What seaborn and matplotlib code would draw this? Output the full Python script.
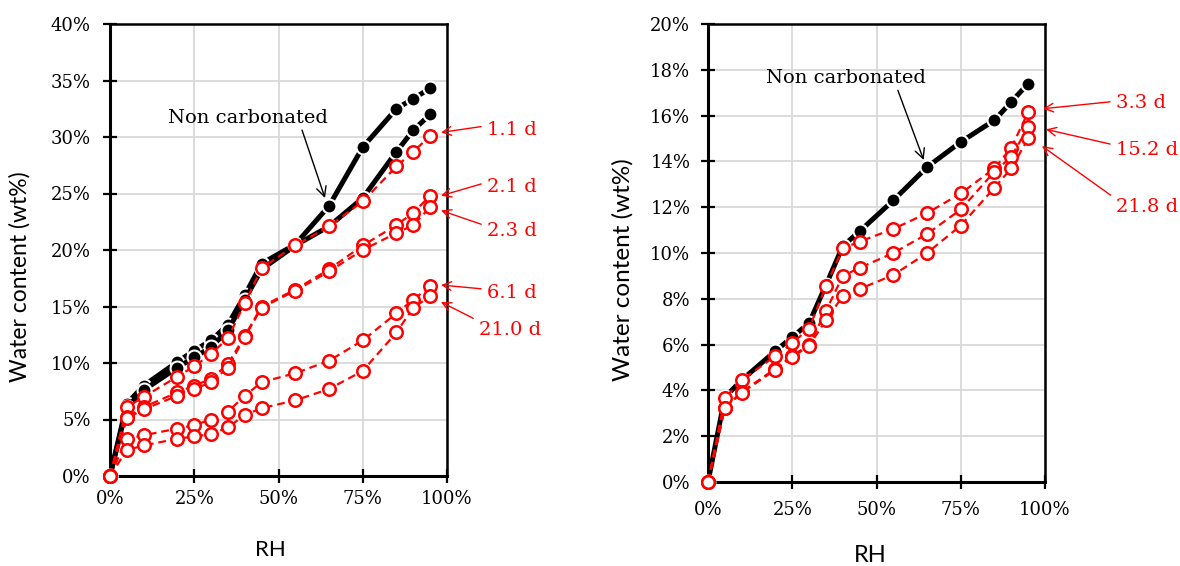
import numpy as np
import pandas as pd
import matplotlib
matplotlib.use("Agg")
import matplotlib.pyplot as plt
import seaborn as sns
from matplotlib.ticker import PercentFormatter, MultipleLocator

# ---------------- data ----------------
rh = [0, 5, 10, 20, 25, 30, 35, 40, 45, 55, 65, 75, 85, 90, 95]

left_nc_a = [0, 6.4, 8.0, 10.1, 11.1, 12.0, 13.4, 16.0, 18.8, 20.5, 23.9, 29.1, 32.5, 33.4, 34.3]
left_nc_b = [0, 6.1, 7.6, 9.6, 10.5, 11.4, 12.9, 15.6, 18.3, 20.4, 22.1, 24.6, 28.7, 30.6, 32.0]
left_1_1 = [0, 6.1, 7.0, 8.8, 9.7, 10.8, 12.2, 15.3, 18.4, 20.4, 22.1, 24.3, 27.4, 28.7, 30.1]
left_2_1 = [0, 5.2, 6.1, 7.4, 8.0, 8.6, 9.9, 12.4, 15.0, 16.5, 18.3, 20.4, 22.2, 23.3, 24.8]
left_2_3 = [0, 5.1, 5.9, 7.1, 7.7, 8.3, 9.6, 12.3, 14.9, 16.4, 18.1, 20.0, 21.5, 22.2, 23.8]
left_6_1 = [0, 3.3, 3.6, 4.2, 4.5, 5.0, 5.7, 7.1, 8.3, 9.1, 10.2, 12.0, 14.4, 15.6, 16.8]
left_21_0 = [0, 2.3, 2.7, 3.3, 3.5, 3.7, 4.3, 5.4, 6.0, 6.7, 7.7, 9.3, 12.7, 14.9, 15.9]

right_nc = [0, 3.7, 4.45, 5.72, 6.33, 6.94, 8.6, 10.3, 10.95, 12.3, 13.75, 14.85, 15.8, 16.6, 17.4]
right_3_3 = [0, 3.67, 4.45, 5.5, 6.07, 6.7, 8.56, 10.2, 10.5, 11.05, 11.74, 12.6, 13.7, 14.6, 16.15]
right_15_2 = [0, 3.25, 3.93, 4.95, 5.5, 6.0, 7.47, 9.0, 9.35, 10.0, 10.83, 11.9, 13.55, 14.2, 15.5]
right_21_8 = [0, 3.22, 3.9, 4.9, 5.45, 5.95, 7.07, 8.12, 8.43, 9.04, 10.0, 11.2, 12.85, 13.7, 15.0]

left_red_labels = ["1.1 d", "2.1 d", "2.3 d", "6.1 d", "21.0 d"]
right_red_labels = ["3.3 d", "15.2 d", "21.8 d"]
nc_label = "Non carbonated"
y_label = "Water content (wt%)"
x_label = "RH"

# ---------------- style ----------------
sns.set_theme(style="white")
plt.rcParams["font.family"] = ["DejaVu Serif"]
SERIF = "DejaVu Serif"
SANS = "Lato"

fig = plt.figure(figsize=(11.8, 5.66), dpi=100)
axL = fig.add_axes([110 / 1180, 1 - 476 / 566, 337 / 1180, 452 / 566])
axR = fig.add_axes([708 / 1180, 1 - 482 / 566, 337 / 1180, 458 / 566])


def draw_black(ax, y):
    sns.lineplot(x=rh, y=y, ax=ax, color="black", lw=3.6, marker="o",
                 markersize=10, markerfacecolor="black", markeredgecolor="white",
                 markeredgewidth=1.5, clip_on=False, zorder=3, errorbar=None)


def draw_red(ax, y):
    sns.lineplot(x=rh, y=y, ax=ax, color="#ff0000", lw=1.6, linestyle=(0, (3.5, 2.2)),
                 marker="o", markersize=9, markerfacecolor="white",
                 markeredgecolor="#ff0000", markeredgewidth=1.8, clip_on=False,
                 zorder=4, errorbar=None)


for s in [left_nc_a, left_nc_b]:
    draw_black(axL, s)
for s in [left_1_1, left_2_1, left_2_3, left_6_1, left_21_0]:
    draw_red(axL, s)

draw_black(axR, right_nc)
for s in [right_3_3, right_15_2, right_21_8]:
    draw_red(axR, s)


def style_axes(ax, ymax, ystep, ypad, xpad):
    ax.set_xlim(0, 100)
    ax.set_ylim(0, ymax)
    ax.xaxis.set_major_locator(MultipleLocator(25))
    ax.yaxis.set_major_locator(MultipleLocator(ystep))
    ax.xaxis.set_major_formatter(PercentFormatter(100, decimals=0))
    ax.yaxis.set_major_formatter(PercentFormatter(100, decimals=0))
    ax.grid(True, color="#d9d9d9", lw=1.3)
    ax.set_axisbelow(True)
    for sp in ax.spines.values():
        sp.set_visible(True)
        sp.set_color("black")
        sp.set_linewidth(1.8)
    ax.spines["left"].set_linewidth(2.2)
    ax.spines["bottom"].set_linewidth(2.2)
    ax.tick_params(axis="both", which="major", direction="inout", length=9.5,
                   width=1.6, color="black", labelsize=13, labelcolor="black",
                   left=True, bottom=True, top=False, right=False)
    ax.tick_params(axis="y", pad=ypad)
    ax.tick_params(axis="x", pad=xpad)
    for t in ax.get_xticklabels() + ax.get_yticklabels():
        t.set_fontfamily(SERIF)
    ax.set_xlabel("")
    ax.set_ylabel("")


style_axes(axL, 40, 5, 9, 5)
style_axes(axR, 20, 2, 8, 9)

# axis labels
axL.set_ylabel(y_label, fontfamily=SANS, fontsize=16.5, color="black")
axL.yaxis.set_label_coords(-0.235, 0.44)
axL.set_xlabel(x_label, fontfamily=SANS, fontsize=16, color="black")
axL.xaxis.set_label_coords(0.475, -0.142)

axR.set_ylabel(y_label, fontfamily=SANS, fontsize=17.5, color="black")
axR.yaxis.set_label_coords(-0.222, 0.463)
axR.set_xlabel(x_label, fontfamily=SANS, fontsize=17, color="black")
axR.xaxis.set_label_coords(0.482, -0.137)

# "Non carbonated" annotations
axL.annotate(nc_label, xy=(63.8, 24.6), xytext=(41.0, 31.7), ha="center", va="center",
             fontsize=14, fontfamily=SERIF, color="black",
             arrowprops=dict(arrowstyle="->,head_length=0.5,head_width=0.25", color="black",
                             lw=1.0, shrinkA=0, shrinkB=0, relpos=(0.83, 0.0)),
             annotation_clip=False, zorder=6)
axR.annotate(nc_label, xy=(64.0, 14.06), xytext=(40.8, 17.64), ha="center", va="center",
             fontsize=14, fontfamily=SERIF, color="black",
             arrowprops=dict(arrowstyle="->,head_length=0.5,head_width=0.25", color="black",
                             lw=1.0, shrinkA=0, shrinkB=0, relpos=(0.82, 0.0)),
             annotation_clip=False, zorder=6)

# red labels with arrows
left_tips = [(98.2, 30.4), (98.2, 24.8), (98.2, 23.5), (98.2, 16.9), (98.2, 15.4)]
left_text = [(111.9, 30.6), (111.9, 25.6), (111.9, 21.7), (111.9, 16.2), (109.5, 12.9)]
left_rel = [(0, 0.75), (0, 0.75), (0, 0.75), (0, 0.7), (0, 1.0)]
for lab, tip, pos, rel in zip(left_red_labels, left_tips, left_text, left_rel):
    axL.annotate(lab, xy=tip, xytext=pos, ha="left", va="center", fontsize=14,
                 fontfamily=SERIF, color="#ff0000",
                 arrowprops=dict(arrowstyle="->,head_length=0.45,head_width=0.22",
                                 color="#ff0000", lw=1.0, shrinkA=2, shrinkB=0, relpos=rel),
                 annotation_clip=False, zorder=6)

right_tips = [(99.4, 16.3), (100.3, 15.4), (99.1, 14.67)]
right_text = [(121.1, 16.55), (121.1, 14.5), (121.1, 12.0)]
right_rel = [(0, 0.6), (0, 0.75), (0, 0.95)]
for lab, tip, pos, rel in zip(right_red_labels, right_tips, right_text, right_rel):
    axR.annotate(lab, xy=tip, xytext=pos, ha="left", va="center", fontsize=14,
                 fontfamily=SERIF, color="#ff0000",
                 arrowprops=dict(arrowstyle="->,head_length=0.45,head_width=0.22",
                                 color="#ff0000", lw=1.0, shrinkA=2, shrinkB=0, relpos=rel),
                 annotation_clip=False, zorder=6)

fig.savefig("out.png", dpi=100)
